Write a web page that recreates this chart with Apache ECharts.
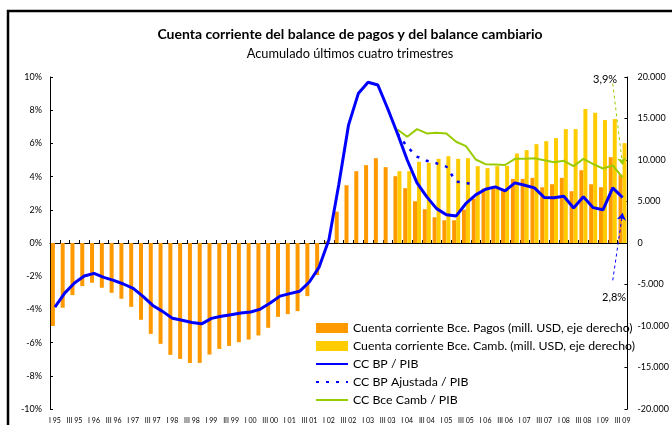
<!DOCTYPE html>
<html>
<head>
<meta charset="utf-8">
<title>Cuenta corriente</title>
<script src="https://cdn.jsdelivr.net/npm/echarts@6/dist/echarts.min.js"></script>
<style>
  html, body { margin: 0; padding: 0; background: #fff; }
  #chart { width: 672px; height: 425px; }
</style>
</head>
<body>
<div id="chart"></div>
<script>
// trimestres I 95 .. III 09
var trimestres = [
  'I 95','II 95','III 95','IV 95','I 96','II 96','III 96','IV 96',
  'I 97','II 97','III 97','IV 97','I 98','II 98','III 98','IV 98',
  'I 99','II 99','III 99','IV 99','I 00','II 00','III 00','IV 00',
  'I 01','II 01','III 01','IV 01','I 02','II 02','III 02','IV 02',
  'I 03','II 03','III 03','IV 03','I 04','II 04','III 04','IV 04',
  'I 05','II 05','III 05','IV 05','I 06','II 06','III 06','IV 06',
  'I 07','II 07','III 07','IV 07','I 08','II 08','III 08','IV 08',
  'I 09','II 09','III 09'
];

// mill. USD, eje derecho
var ccPagos = [
  -10000, -7800, -6280, -5190, -4790, -5390, -6000, -6720, -7690, -9250,
  -10950, -12150, -13480, -13960, -14450, -14450, -13440, -12760, -12400, -11950,
  -11630, -11140, -10220, -8900, -8570, -8210, -6400, -3860, 200, 3780,
  6960, 8650, 9380, 10220, 9140, 8050, 6600, 5030, 4070, 3100,
  2740, 2740, 4020, 5350, 6560, 6840, 6360, 7720, 7720, 7850,
  6720, 7080, 7850, 6240, 8770, 7080, 6720, 10340, 8250
];
var ccCamb = [
  null, null, null, null, null, null, null, null, null, null,
  null, null, null, null, null, null, null, null, null, null,
  null, null, null, null, null, null, null, null, null, null,
  null, null, null, null, null, 8650, 8650, 9780, 9660, 10140,
  10460, 10140, 10220, 9260, 9020, 9260, 9300, 10780, 11190, 11910,
  12270, 12640, 13720, 13720, 16130, 15690, 14810, 14930, 12030
];

// % del PIB, eje izquierdo
var bpPib = [
  -3.86, -3.02, -2.41, -1.99, -1.83, -2.07, -2.25, -2.47, -2.73, -3.22,
  -3.76, -4.12, -4.53, -4.65, -4.79, -4.87, -4.54, -4.41, -4.32, -4.22,
  -4.16, -3.98, -3.62, -3.20, -3.05, -2.91, -2.35, -1.45, 0.2, 3.5,
  7.1, 9.0, 9.68, 9.52, 8.1, 6.6, 5.0, 3.62, 2.78, 2.07,
  1.7, 1.63, 2.38, 2.9, 3.24, 3.38, 3.14, 3.62, 3.48, 3.32,
  2.74, 2.72, 2.82, 2.11, 2.78, 2.13, 2.0, 3.32, 2.74
];
var bpAjustPib = [
  null, null, null, null, null, null, null, null, null, null,
  null, null, null, null, null, null, null, null, null, null,
  null, null, null, null, null, null, null, null, null, null,
  null, null, null, null, null, 6.6, 5.8, 5.2, 4.95, 4.8,
  4.6, 3.7, 3.62, 3.48, null, null, null, null, null, null,
  null, null, null, null, null, null, null, null, null
];
var cambPib = [
  null, null, null, null, null, null, null, null, null, null,
  null, null, null, null, null, null, null, null, null, null,
  null, null, null, null, null, null, null, null, null, null,
  null, null, null, null, null, 6.84, 6.4, 6.86, 6.6, 6.64,
  6.6, 6.1, 5.84, 5.03, 4.75, 4.73, 4.7, 5.07, 5.07, 5.1,
  4.99, 4.87, 4.95, 4.63, 5.07, 4.75, 4.49, 4.67, 3.95
];

var nombres = [
  'Cuenta corriente Bce. Pagos (mill. USD, eje derecho)',
  'Cuenta corriente Bce. Camb. (mill. USD, eje derecho)',
  'CC BP / PIB',
  'CC BP Ajustada / PIB',
  'CC Bce Camb / PIB'
];

var fuente = 'Lato';

function miles(v) {
  return String(v).replace(/\B(?=(\d{3})+(?!\d))/g, '.');
}

var chart = echarts.init(document.getElementById('chart'), null, {
  renderer: 'canvas'
});

chart.setOption({
  animation: false,
  textStyle: { fontFamily: fuente, color: '#000' },
  title: {
    text: 'Cuenta corriente del balance de pagos y del balance cambiario',
    subtext: 'Acumulado últimos cuatro trimestres',
    left: 345,
    textAlign: 'center',
    top: 22,
    itemGap: 6,
    textStyle: { fontFamily: fuente, fontSize: 14, fontWeight: 'bold', color: '#000' },
    subtextStyle: { fontFamily: fuente, fontSize: 12.8, color: '#000' }
  },
  legend: {
    orient: 'vertical',
    left: 310,
    top: 316,
    itemWidth: 32,
    itemHeight: 10,
    itemGap: 4,
    textStyle: { fontFamily: fuente, fontSize: 12.3, color: '#000', lineHeight: 14 },
    data: [
      { name: nombres[0], icon: 'rect' },
      { name: nombres[1], icon: 'rect' },
      { name: nombres[2], itemStyle: { opacity: 0 } },
      { name: nombres[3], itemStyle: { opacity: 0 } },
      { name: nombres[4], itemStyle: { opacity: 0 } }
    ]
  },
  grid: {
    left: 50,
    right: 29,
    top: 77,
    bottom: 16
  },
  xAxis: [
    {
      type: 'category',
      data: trimestres,
      position: 'bottom',
      axisLine: { show: false, onZero: false },
      axisTick: { show: false },
      axisLabel: {
        interval: 1,
        fontSize: 7,
        margin: 8,
        color: '#000'
      }
    },
    {
      type: 'category',
      data: trimestres,
      position: 'top',
      axisLine: { show: true, onZero: true, lineStyle: { color: '#000', width: 1 } },
      axisTick: { show: true, inside: false, length: 3, interval: 0, lineStyle: { color: '#000' } },
      axisLabel: { show: false }
    }
  ],
  yAxis: [
    {
      type: 'value',
      min: -10,
      max: 10,
      interval: 2,
      splitLine: { show: false },
      axisLine: { show: true, lineStyle: { color: '#000' } },
      axisTick: { show: true, inside: true, length: 3, lineStyle: { color: '#000' } },
      axisLabel: { fontSize: 9, margin: 8, color: '#000', formatter: '{value}%' }
    },
    {
      type: 'value',
      min: -20000,
      max: 20000,
      interval: 5000,
      splitLine: { show: false },
      axisLine: { show: true, lineStyle: { color: '#000' } },
      axisTick: { show: true, inside: true, length: 3, lineStyle: { color: '#000' } },
      axisLabel: { fontSize: 9, margin: 10, color: '#000', formatter: miles }
    }
  ],
  graphic: [
    {
      type: 'rect',
      shape: { x: 8, y: 11, width: 720, height: 460 },
      style: { fill: 'none', stroke: '#000', lineWidth: 2.5 },
      silent: true,
      z: 100
    },
    {
      type: 'text',
      left: 593,
      top: 74,
      style: { text: '3,9%', font: '11px ' + fuente, fill: '#000' }
    },
    {
      type: 'text',
      left: 602,
      top: 292,
      style: { text: '2,8%', font: '11px ' + fuente, fill: '#000' }
    }
  ],
  series: [
    {
      name: nombres[0],
      type: 'bar',
      yAxisIndex: 1,
      barWidth: 4,
      barGap: '0%',
      itemStyle: { color: '#ff9900' },
      data: ccPagos
    },
    {
      name: nombres[1],
      type: 'bar',
      yAxisIndex: 1,
      barWidth: 4,
      barGap: '0%',
      itemStyle: { color: '#ffcc00' },
      data: ccCamb
    },
    {
      name: nombres[2],
      type: 'line',
      yAxisIndex: 0,
      symbol: 'none',
      z: 5,
      lineStyle: { color: '#0000ff', width: 3 },
      itemStyle: { color: '#0000ff' },
      data: bpPib,
      markLine: {
        silent: true,
        symbol: ['none', 'arrow'],
        symbolSize: 7,
        label: { show: false },
        lineStyle: { color: '#0000ff', type: [3, 3], width: 1 },
        data: [[{ coord: [57, -2.25] }, { coord: [58.2, 1.8] }]]
      }
    },
    {
      name: nombres[3],
      type: 'line',
      yAxisIndex: 0,
      symbol: 'none',
      z: 4,
      lineStyle: { color: '#0000ff', width: 2.5, type: [3, 7] },
      itemStyle: { color: '#0000ff' },
      data: bpAjustPib
    },
    {
      name: nombres[4],
      type: 'line',
      yAxisIndex: 0,
      symbol: 'none',
      z: 4,
      lineStyle: { color: '#99cc00', width: 2 },
      itemStyle: { color: '#99cc00' },
      data: cambPib,
      markLine: {
        silent: true,
        symbol: ['none', 'arrow'],
        symbolSize: 7,
        label: { show: false },
        lineStyle: { color: '#99cc00', type: [3, 3], width: 1 },
        data: [[{ coord: [56.5, 9.6] }, { coord: [57.9, 4.7] }]]
      }
    }
  ]
});
</script>
</body>
</html>
